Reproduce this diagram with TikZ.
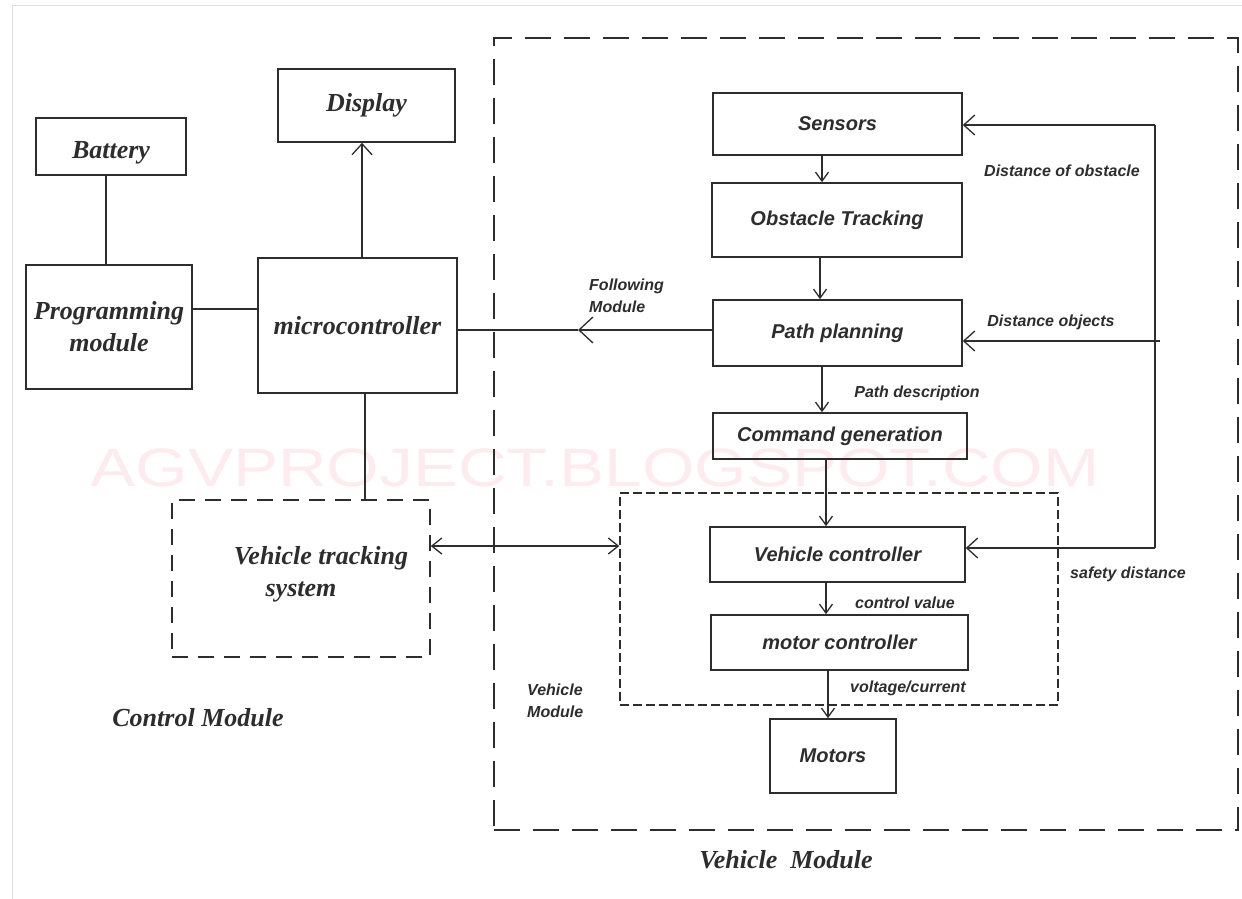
\documentclass[tikz,border=0pt]{standalone}
\usepackage{fontspec}
\setmainfont{Liberation Serif}
\newfontfamily\arialfam{Liberation Sans}
\usetikzlibrary{arrows.meta}
\newcommand\serL{\fontsize{26}{32}\selectfont\bfseries\itshape}
\newcommand\sanL{\arialfam\fontsize{20}{24}\selectfont\bfseries\itshape}
\newcommand\sanS{\arialfam\fontsize{16}{22}\selectfont\bfseries\itshape}
\definecolor{ink}{RGB}{45,45,45}
\definecolor{wmark}{RGB}{253,235,239}
\tikzset{
  box/.style={draw=ink, line width=1.6pt, rectangle, inner sep=0pt, align=center, text=ink},
  sbox/.style={box, font=\sanL},
  lbox/.style={box, font=\serL},
  conn/.style={draw=ink, line width=1.3pt},
  arr/.style={conn, -{Straight Barb[length=11pt,width=20pt,line width=1.3pt]}},
  arrs/.style={conn, -{Straight Barb[length=9pt,width=13pt,line width=1.3pt]}},
  arrd/.style={conn, {Straight Barb[length=10pt,width=16pt,line width=1.3pt]}-{Straight Barb[length=10pt,width=16pt,line width=1.3pt]}},
  arrf/.style={conn, -{Straight Barb[length=14pt,width=26pt,line width=1.3pt]}},
  lab/.style={font=\sanS, text=ink, inner sep=0pt},
  biglab/.style={font=\serL, text=ink, inner sep=0pt},
}
\begin{document}
\begin{tikzpicture}[x=1pt,y=-1pt]
\useasboundingbox (0,0) rectangle (1242,899);
\fill[white] (0,0) rectangle (1242,899);
% faint screenshot border
\draw[black!12, line width=1pt] (12,6) -- (1242,6);
\draw[black!12, line width=1pt] (12,6) -- (12,899);
% watermark
\node[text=wmark, font=\arialfam\fontsize{54}{60}\selectfont, xscale=1.25, inner sep=0pt] (wm) at (595,468) {AGVPROJECT.BLOGSPOT.COM};

% frames
\node[draw=ink, line width=1.6pt, dash pattern=on 26pt off 13pt, minimum width=744pt, minimum height=792pt, inner sep=0pt] (vmframe) at (866,434) {};
\node[draw=ink, line width=1.4pt, dash pattern=on 9pt off 4pt, minimum width=438pt, minimum height=212pt, inner sep=0pt] (vcgroup) at (839,599) {};

% left side nodes
\node[lbox, minimum width=150pt, minimum height=57pt] (bat) at (111,146.5) {\raisebox{-12pt}[0pt][0pt]{Battery}};
\node[lbox, minimum width=177pt, minimum height=73pt] (disp) at (366.5,105.5) {Display};
\node[lbox, minimum width=166pt, minimum height=124pt] (prog) at (109,327) {Programming\\module};
\node[lbox, minimum width=199pt, minimum height=135pt] (mc) at (357.5,325.5) {microcontroller};
\node[lbox, dash pattern=on 16pt off 10pt, minimum width=258pt, minimum height=157pt] (vts) at (301,578.5) {\hspace*{40pt}Vehicle tracking\\system\hspace*{30pt}\\[-18pt]};

% right side nodes
\node[sbox, minimum width=249pt, minimum height=62pt] (sens) at (837.5,124) {Sensors};
\node[sbox, minimum width=250pt, minimum height=74pt] (obs) at (837,220) {Obstacle Tracking};
\node[sbox, minimum width=249pt, minimum height=66pt] (path) at (837.5,333) {Path planning};
\node[sbox, minimum width=254pt, minimum height=46pt] (cmd) at (840,436) {Command generation};
\node[sbox, minimum width=255pt, minimum height=55pt] (vc) at (837.5,554.5) {Vehicle controller};
\node[sbox, minimum width=257pt, minimum height=55pt] (motc) at (839.5,642.5) {motor controller};
\node[sbox, minimum width=126pt, minimum height=74pt] (mot) at (833,756) {Motors};

% labels
\node[lab, anchor=east] (l1) at (1140,171) {Distance of obstacle};
\node[lab] (l2) at (1051,322) {Distance objects};
\node[lab] (l3) at (917,393) {Path description};
\node[lab, align=left, anchor=west] (l4) at (589,296) {Following\\Module};
\node[lab] (l5) at (905,603) {control value};
\node[lab] (l6) at (908,688) {voltage/current};
\node[lab] (l7) at (1128,574) {safety distance};
\node[lab, align=left, anchor=west] (l8) at (527,701) {Vehicle\\Module};
\node[biglab] (l9) at (198,718) {Control Module};
\node[biglab] (l10) at (786,860) {Vehicle\ \ Module};

% coordinates
\coordinate (xa) at (106,0);
\coordinate (ya) at (0,309);
\coordinate (xb) at (362,0);
\coordinate (xc) at (365,0);
\coordinate (fm) at (578,330);
\coordinate (yv) at (0,546);
\coordinate (c1) at (822,0);
\coordinate (c2) at (820,0);
\coordinate (c3) at (822,0);
\coordinate (c4) at (826,0);
\coordinate (c5) at (826,0);
\coordinate (c6) at (828,0);
\coordinate (fbtop) at (1155,125);
\coordinate (fbmid) at (1160,341);
\coordinate (fbbot) at (1155,548);

% left connectors
\draw[conn] (bat.south -| xa) -- (prog.north -| xa);
\draw[conn] (prog.east |- ya) -- (mc.west |- ya);
\draw[arr] (mc.north -| xb) -- (disp.south -| xb);
\draw[conn] (mc.south -| xc) -- (vts.north -| xc);
\draw[arrf] (path.west |- fm) -- (fm);
\draw[conn] (fm) -- (mc.east |- fm);
\draw[arrd] (vts.east |- yv) -- (vcgroup.west |- yv);

% vertical chain
\draw[arrs] (sens.south -| c1) -- (obs.north -| c1);
\draw[arrs] (obs.south -| c2) -- (path.north -| c2);
\draw[arrs] (path.south -| c3) -- (cmd.north -| c3);
\draw[arrs] (cmd.south -| c4) -- (vc.north -| c4);
\draw[arrs] (vc.south -| c5) -- (motc.north -| c5);
\draw[arrs] (motc.south -| c6) -- (mot.north -| c6);

% feedback
\draw[conn] (fbtop) -- (fbbot);
\draw[arr] (fbtop) -- (sens.east |- fbtop);
\draw[arr] (fbmid) -- (path.east |- fbmid);
\draw[arr] (fbbot) -- (vc.east |- fbbot);
\end{tikzpicture}
\end{document}
